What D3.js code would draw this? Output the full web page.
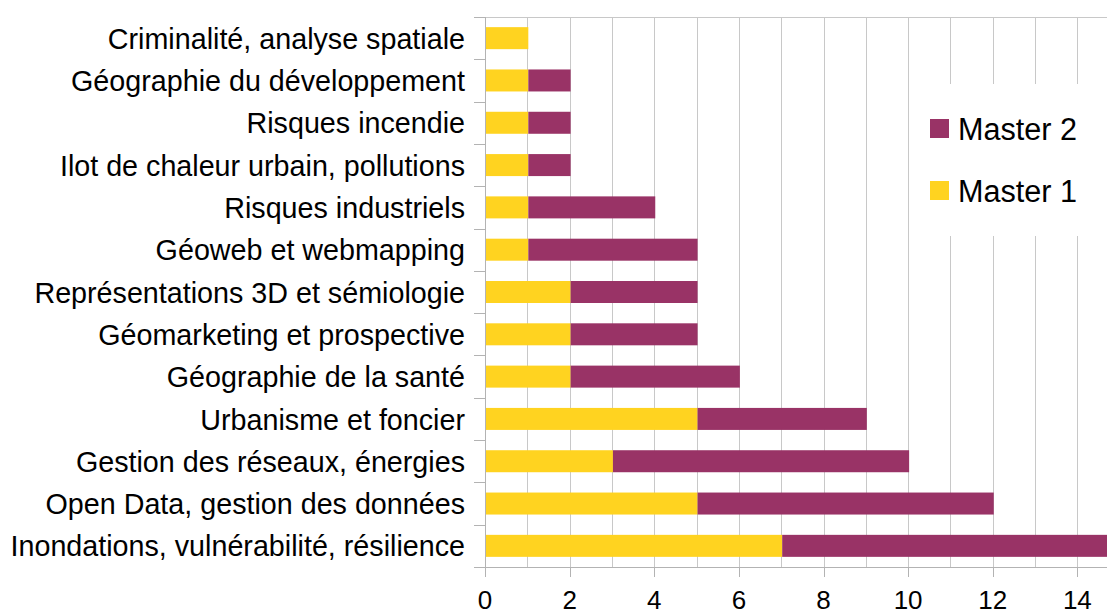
<!DOCTYPE html>
<html lang="fr">
<head>
<meta charset="UTF-8">
<title>Thèmes des masters</title>
<style>
    body { margin: 0; background: #fff; }
    svg { display: block; font-family: "Liberation Sans", Arial, sans-serif; }
</style>
</head>
<body>
<div id="chart"></div>
<script src="https://d3js.org/d3.v7.min.js"></script>
<script>
    const categories = [
        'Criminalité, analyse spatiale',
        'Géographie du développement',
        'Risques incendie',
        'Ilot de chaleur urbain, pollutions',
        'Risques industriels',
        'Géoweb et webmapping',
        'Représentations 3D et sémiologie',
        'Géomarketing et prospective',
        'Géographie de la santé',
        'Urbanisme et foncier',
        'Gestion des réseaux, énergies',
        'Open Data, gestion des données',
        'Inondations, vulnérabilité, résilience'
    ];
    const master1 = [1, 1, 1, 1, 1, 1, 2, 2, 2, 5, 3, 5, 7];
    const master2 = [0, 1, 1, 1, 3, 4, 3, 3, 4, 4, 7, 7, 8];
    const xTicks = [0, 2, 4, 6, 8, 10, 12, 14];
    const seriesNames = ['Master 1', 'Master 2'];
    const colors = { 'Master 1': '#ffd320', 'Master 2': '#993366' };

    const width = 1107, height = 610;
    const plotLeft = 485, plotRight = 1107, plotTop = 17, plotBottom = 567;

    const svg = d3.select('#chart').append('svg')
        .attr('width', width)
        .attr('height', height);

    const x = d3.scaleLinear().domain([0, 14.7]).range([plotLeft, plotRight]);
    const y = d3.scaleBand().domain(categories).range([plotTop, plotBottom]);

    const rows = categories.map((c, i) => ({ cat: c, 'Master 1': master1[i], 'Master 2': master2[i] }));
    const stacked = d3.stack().keys(seriesNames)(rows);

    // grid
    svg.append('g')
        .selectAll('line')
        .data(d3.range(0, 15))
        .enter().append('line')
        .attr('x1', d => Math.round(x(d)) + 0.5).attr('x2', d => Math.round(x(d)) + 0.5)
        .attr('y1', plotTop).attr('y2', plotBottom)
        .attr('stroke', '#c8c8c8').attr('stroke-width', 1);

    // top border
    svg.append('line')
        .attr('x1', plotLeft).attr('x2', plotRight)
        .attr('y1', plotTop + 0.5).attr('y2', plotTop + 0.5)
        .attr('stroke', '#c8c8c8');

    svg.append('clipPath').attr('id', 'plot')
        .append('rect').attr('x', plotLeft).attr('y', plotTop)
        .attr('width', plotRight - plotLeft).attr('height', plotBottom - plotTop);

    const barH = y.bandwidth() * 0.52;
    svg.append('g').attr('clip-path', 'url(#plot)')
        .selectAll('g')
        .data(stacked)
        .enter().append('g')
        .attr('fill', d => colors[d.key])
        .selectAll('rect')
        .data(d => d)
        .enter().append('rect')
        .attr('x', d => x(d[0]) + 1)
        .attr('width', d => Math.max(0, x(d[1]) - x(d[0])))
        .attr('y', d => y(d.data.cat) + (y.bandwidth() - barH) / 2)
        .attr('height', barH);

    // left axis with band-boundary ticks
    const yAxis = svg.append('g');
    yAxis.append('line')
        .attr('x1', plotLeft + 0.5).attr('x2', plotLeft + 0.5)
        .attr('y1', plotTop).attr('y2', plotBottom + 10)
        .attr('stroke', '#b3b3b3');
    yAxis.selectAll('.tk')
        .data(d3.range(categories.length + 1))
        .enter().append('line')
        .attr('x1', plotLeft - 11).attr('x2', plotLeft)
        .attr('y1', i => Math.round(plotTop + i * y.step()) + 0.5)
        .attr('y2', i => Math.round(plotTop + i * y.step()) + 0.5)
        .attr('stroke', '#b3b3b3');
    yAxis.selectAll('text')
        .data(categories)
        .enter().append('text')
        .attr('x', plotLeft - 20)
        .attr('y', d => y(d) + y.bandwidth() / 2)
        .attr('dy', '0.37em')
        .attr('text-anchor', 'end')
        .attr('font-size', 28.7)
        .attr('fill', '#000')
        .text(d => d);

    // bottom axis
    const xAxis = svg.append('g');
    xAxis.append('line')
        .attr('x1', plotLeft - 11).attr('x2', plotRight)
        .attr('y1', plotBottom + 0.5).attr('y2', plotBottom + 0.5)
        .attr('stroke', '#b3b3b3');
    xAxis.selectAll('.tk')
        .data(xTicks)
        .enter().append('line')
        .attr('x1', d => Math.round(x(d)) + 0.5).attr('x2', d => Math.round(x(d)) + 0.5)
        .attr('y1', plotBottom).attr('y2', plotBottom + 10)
        .attr('stroke', '#b3b3b3');
    xAxis.selectAll('text')
        .data(xTicks)
        .enter().append('text')
        .attr('x', d => x(d))
        .attr('y', 609)
        .attr('text-anchor', 'middle')
        .attr('font-size', 26)
        .attr('fill', '#000')
        .text(d => d);

    // legend
    const legend = svg.append('g');
    legend.append('rect')
        .attr('x', 911).attr('y', 84).attr('width', 196).attr('height', 152)
        .attr('fill', '#fff');
    const legendItems = ['Master 2', 'Master 1'];
    legend.selectAll('g')
        .data(legendItems)
        .enter().append('g')
        .attr('transform', (d, i) => `translate(930, ${119 + i * 62})`)
        .each(function (d) {
            const g = d3.select(this);
            g.append('rect').attr('width', 19).attr('height', 19).attr('fill', colors[d]);
            g.append('text')
                .attr('x', 28).attr('y', 10)
                .attr('dy', '0.37em')
                .attr('font-size', 30.6)
                .attr('fill', '#000')
                .text(d);
        });
</script>
</body>
</html>
